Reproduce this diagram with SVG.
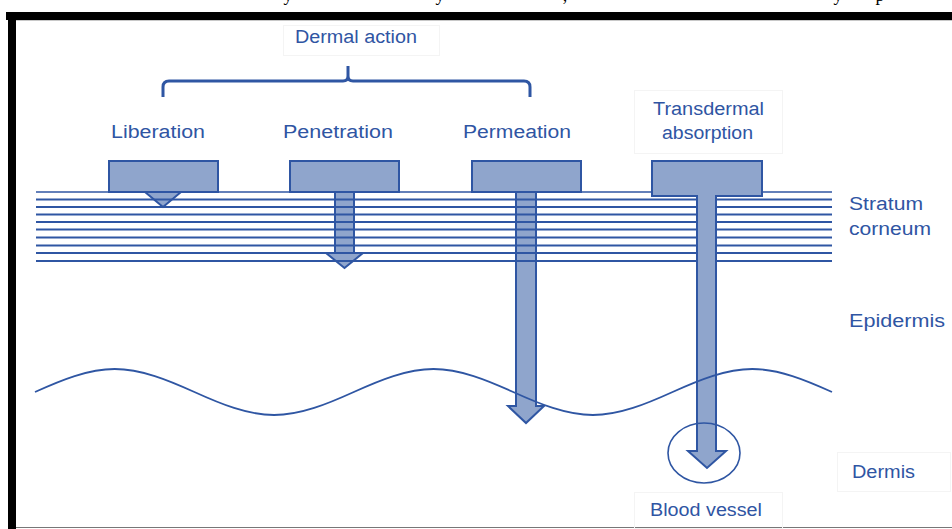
<svg xmlns="http://www.w3.org/2000/svg" width="952" height="529" viewBox="0 0 952 529">
  <style>
    .lbl { font-family: "Liberation Sans", Arial, sans-serif; font-size: 18px; fill: #2f55a3; }
    .frag { font-family: "Liberation Serif", "Times New Roman", serif; font-size: 18px; fill: #000; }
    .shape { fill: #8fa5cc; stroke: #2f56a3; stroke-width: 2; stroke-linejoin: miter; }
    .layer { stroke: #2f56a3; stroke-width: 1.8; fill: none; }
    .faint { fill: none; stroke: #f4f4f4; stroke-width: 1; }
  </style>
  <rect x="0" y="0" width="952" height="529" fill="#ffffff"/>
  <!-- cut-off text fragments above the frame -->
  <g id="page-text">
    <text class="frag" x="288" y="0.5" text-anchor="middle">y</text>
    <text class="frag" x="440" y="0.5" text-anchor="middle">y</text>
    <text class="frag" x="565" y="0.5" text-anchor="middle">,</text>
    <text class="frag" x="838" y="0.5" text-anchor="middle">y</text>
    <text class="frag" x="880" y="0.5" text-anchor="middle">p</text>
  </g>
  <!-- frame -->
  <g id="frame">
    <rect x="6" y="12" width="946" height="8" fill="#000"/>
    <rect x="8" y="12" width="8" height="517" fill="#000"/>
    <line x1="16" y1="20.5" x2="952" y2="20.5" stroke="#c8c8c8" stroke-width="1"/>
    <line x1="16" y1="527.5" x2="952" y2="527.5" stroke="#777" stroke-width="1"/>
  </g>

  <!-- faint text box outlines -->
  <g id="textbox-outlines">
    <rect class="faint" x="283.5" y="25.5" width="156" height="30"/>
    <rect class="faint" x="634.5" y="90.5" width="148" height="63"/>
    <rect class="faint" x="837.5" y="452.5" width="113" height="39"/>
    <rect class="faint" x="634.5" y="492.5" width="148" height="36"/>
  </g>

  <!-- Dermal action label and brace -->
  <g id="dermal-action">
    <text class="lbl" x="295" y="43" textLength="122" lengthAdjust="spacingAndGlyphs">Dermal action</text>
  </g>
  <g id="connectors">
    <path id="brace" d="M163,97 V87 Q163,81 169,81 H343 Q348,81 348,76 V66 V76 Q348,81 353,81 H524 Q530,81 530,87 V97" fill="none" stroke="#2f56a3" stroke-width="3"/>
  </g>

  <!-- process nodes drawn beneath the stratum lines -->
  <g id="liberation">
    <text class="lbl" x="111" y="138" textLength="94" lengthAdjust="spacingAndGlyphs">Liberation</text>
    <rect class="shape" x="109" y="161" width="109" height="31"/>
    <path class="shape" d="M145,192 L181,192 L163,207 Z"/>
  </g>
  <g id="penetration">
    <text class="lbl" x="283" y="138" textLength="110" lengthAdjust="spacingAndGlyphs">Penetration</text>
    <path class="shape" d="M335,192 V253 H326 L344.5,268 L363,253 H354 V192 Z"/>
    <rect class="shape" x="290" y="161" width="109" height="31"/>
  </g>
  <g id="permeation">
    <text class="lbl" x="463" y="138" textLength="108" lengthAdjust="spacingAndGlyphs">Permeation</text>
    <path class="shape" d="M516,191 V406 H508 L526,423 L544,406 H536 V191 Z"/>
    <rect class="shape" x="472" y="161" width="109" height="31"/>
  </g>

  <!-- stratum corneum layers -->
  <g id="stratum-corneum">
    <g class="layer">
      <line x1="36" y1="192" x2="832" y2="192" stroke-width="1.3"/>
      <line x1="36" y1="199.5" x2="832" y2="199.5"/>
      <line x1="36" y1="207" x2="832" y2="207"/>
      <line x1="36" y1="214.5" x2="832" y2="214.5"/>
      <line x1="36" y1="222" x2="832" y2="222"/>
      <line x1="36" y1="229.5" x2="832" y2="229.5"/>
      <line x1="36" y1="237.5" x2="832" y2="237.5"/>
      <line x1="36" y1="245.5" x2="832" y2="245.5"/>
      <line x1="36" y1="253" x2="832" y2="253"/>
      <line x1="36" y1="261" x2="832" y2="261"/>
    </g>
    <text class="lbl" x="849" y="210" textLength="74" lengthAdjust="spacingAndGlyphs">Stratum</text>
    <text class="lbl" x="849" y="235" textLength="82" lengthAdjust="spacingAndGlyphs">corneum</text>
  </g>

  <!-- transdermal absorption (over the layers) -->
  <g id="transdermal-absorption">
    <text class="lbl" x="653" y="115" textLength="111" lengthAdjust="spacingAndGlyphs">Transdermal</text>
    <text class="lbl" x="662" y="139" textLength="91" lengthAdjust="spacingAndGlyphs">absorption</text>
    <path class="shape" d="M652,161 H762 V196 H716 V451 H726 L707,468 L688,451 H697 V196 H652 Z"/>
  </g>

  <!-- epidermis / dermis boundary -->
  <g id="epidermis">
    <path class="layer" d="M35,392 C61,380.2 88.1,369 114.7,369 C141.3,369 168.4,380.2 194.4,392 C220.4,403.8 247.5,415 274.1,415 C300.7,415 327.8,403.8 353.8,392 C379.8,380.2 406.9,369 433.5,369 C460.1,369 487.2,380.2 513.2,392 C539.2,403.8 566.3,415 592.9,415 C619.5,415 646.6,403.8 672.6,392 C698.6,380.2 725.7,369 752.3,369 C778.9,369 806,380.2 832,392"/>
    <text class="lbl" x="849" y="327" textLength="96" lengthAdjust="spacingAndGlyphs">Epidermis</text>
  </g>

  <g id="blood-vessel">
    <ellipse cx="704" cy="453" rx="36" ry="30" fill="none" stroke="#2f56a3" stroke-width="1.6"/>
    <text class="lbl" x="650" y="516" textLength="112" lengthAdjust="spacingAndGlyphs">Blood vessel</text>
  </g>

  <g id="dermis">
    <text class="lbl" x="852" y="478" textLength="63" lengthAdjust="spacingAndGlyphs">Dermis</text>
  </g>
</svg>
